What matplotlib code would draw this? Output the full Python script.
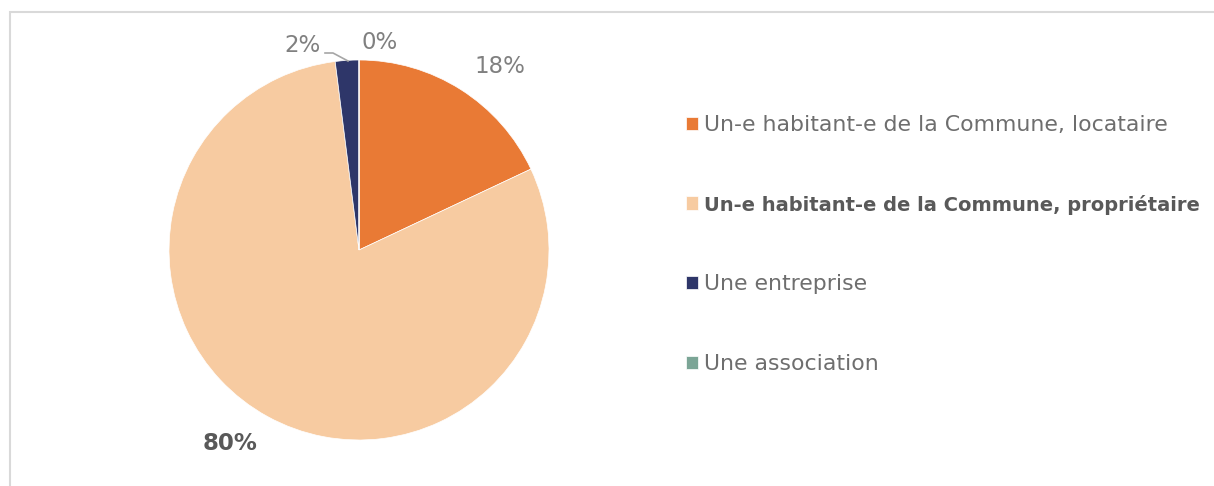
import matplotlib
matplotlib.use("Agg")
import matplotlib.pyplot as plt
from matplotlib.patches import Rectangle
from matplotlib.lines import Line2D

categories = [
    "Un-e habitant-e de la Commune, locataire",
    "Un-e habitant-e de la Commune, propriétaire",
    "Une entreprise",
    "Une association",
]
values = [18, 80, 2, 0.0001]
value_labels = ["18%", "80%", "2%", "0%"]
colors = ["#E97A35", "#F7CBA1", "#2E3669", "#7BA596"]

W, H = 1214, 486
fig = plt.figure(figsize=(W / 100, H / 100), dpi=100)
plt.rcParams['font.family'] = ['DejaVu Sans']

# outer frame
fig.patches.append(Rectangle((10 / W, -0.1), 1.1, 1 - 12 / H + 0.1, transform=fig.transFigure,
                             fill=False, edgecolor="#D9D9D9", linewidth=1.5))

cx, cy, r = 359, H - 250, 190
lim = 1.3
half = lim * r
ax = fig.add_axes([(cx - half) / W, (cy - half) / H, 2 * half / W, 2 * half / H])
wedges, _ = ax.pie(values, colors=colors, startangle=90, counterclock=False, radius=1,
                   wedgeprops=dict(edgecolor="white", linewidth=0.5))
ax.set_xlim(-lim, lim)
ax.set_ylim(-lim, lim)
ax.set_aspect("equal")
ax.axis("off")

def px(x, y):
    return ((x - 359) / r, (250 - y) / r)

lab_pos = [px(500, 66), px(230, 443), px(303, 45), px(380, 42)]
for i, (lbl, pos) in enumerate(zip(value_labels, lab_pos)):
    bold = i == 1
    ax.text(pos[0], pos[1], lbl, ha="center", va="center", fontsize=16.5,
            color="#595959" if bold else "#808080",
            fontweight="bold" if bold else "normal", clip_on=False)

# leader line for 2%
p1, p2, p3 = px(325, 53), px(333, 53), px(348, 61)
ax.add_line(Line2D([p1[0], p2[0], p3[0]], [p1[1], p2[1], p3[1]], color="#A6A6A6", lw=1.2,
                   clip_on=False))

leg = fig.legend(wedges, categories, loc="upper left",
                 bbox_to_anchor=(675 / W, 1 - 104 / H), frameon=False,
                 fontsize=15.8, labelspacing=2.72, handlelength=0.55, handleheight=0.55,
                 handletextpad=0.25, borderpad=0)
for i, t in enumerate(leg.get_texts()):
    t.set_color("#595959" if i == 1 else "#6E6E6E")
    if i == 1:
        t.set_fontweight("bold")
        t.set_fontsize(14)

fig.savefig("out.png", dpi=100)
